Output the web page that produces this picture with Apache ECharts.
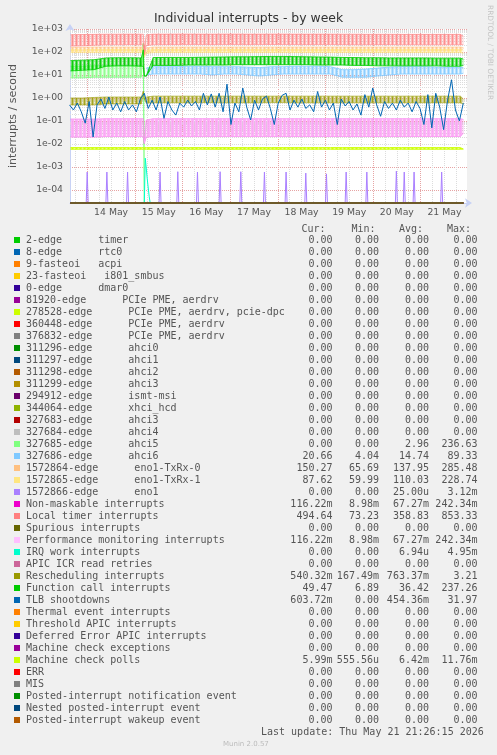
<!DOCTYPE html>
<html>
<head>
<meta charset="utf-8">
<title>Individual interrupts - by week</title>
<script src="https://cdn.jsdelivr.net/npm/echarts@6/dist/echarts.min.js"></script>
<style>
  html, body { margin: 0; padding: 0; background: #F0F0F0; }
  #chart { width: 497px; height: 755px; }
</style>
</head>
<body>
<div id="chart"></div>
<script>
const yFloor = 2.7e-5 // bottom of the log axis, rrdtool draws zeros here

const legendNames = [
  '2-edge      timer', '8-edge      rtc0', '9-fasteoi   acpi', '23-fasteoi   i801_smbus', '0-edge      dmar0',
  '81920-edge      PCIe PME, aerdrv', '278528-edge      PCIe PME, aerdrv, pcie-dpc', '360448-edge      PCIe PME, aerdrv',
  '376832-edge      PCIe PME, aerdrv', '311296-edge      ahci0', '311297-edge      ahci1', '311298-edge      ahci2',
  '311299-edge      ahci3', '294912-edge      ismt-msi', '344064-edge      xhci_hcd', '327683-edge      ahci3',
  '327684-edge      ahci4', '327685-edge      ahci5', '327686-edge      ahci6', '1572864-edge      eno1-TxRx-0',
  '1572865-edge      eno1-TxRx-1', '1572866-edge      eno1', 'Non-maskable interrupts', 'Local timer interrupts',
  'Spurious interrupts', 'Performance monitoring interrupts', 'IRQ work interrupts', 'APIC ICR read retries',
  'Rescheduling interrupts', 'Function call interrupts', 'TLB shootdowns', 'Thermal event interrupts',
  'Threshold APIC interrupts', 'Deferred Error APIC interrupts', 'Machine check exceptions', 'Machine check polls',
  'ERR', 'MIS', 'Posted-interrupt notification event', 'Nested posted-interrupt event', 'Posted-interrupt wakeup event'
]
const legendColors = [
  '#00CC00', '#0066B3', '#FF8000', '#FFCC00', '#330099', '#990099', '#CCFF00', '#FF0000', '#808080', '#008F00',
  '#00487D', '#B35A00', '#B38F00', '#6B006B', '#8FB300', '#B30000', '#BEBEBE', '#80FF80', '#80C9FF', '#FFC080',
  '#FFE680', '#AA80FF', '#EE00CC', '#FF8080', '#666600', '#FFBFFF', '#00FFCC', '#CC6699', '#999900', '#00CC00',
  '#0066B3', '#FF8000', '#FFCC00', '#330099', '#990099', '#CCFF00', '#FF0000', '#808080', '#008F00', '#00487D', '#B35A00'
]
const curVals = [
  '0.00', '0.00', '0.00', '0.00', '0.00', '0.00', '0.00', '0.00', '0.00', '0.00', '0.00', '0.00', '0.00', '0.00',
  '0.00', '0.00', '0.00', '0.00', '20.66', '150.27', '87.62', '0.00', '116.22m', '494.64', '0.00', '116.22m', '0.00',
  '0.00', '540.32m', '49.47', '603.72m', '0.00', '0.00', '0.00', '0.00', '5.99m', '0.00', '0.00', '0.00', '0.00', '0.00'
]
const minVals = [
  '0.00', '0.00', '0.00', '0.00', '0.00', '0.00', '0.00', '0.00', '0.00', '0.00', '0.00', '0.00', '0.00', '0.00',
  '0.00', '0.00', '0.00', '0.00', '4.04', '65.69', '59.99', '0.00', '8.98m', '73.23', '0.00', '8.98m', '0.00',
  '0.00', '167.49m', '6.89', '0.00', '0.00', '0.00', '0.00', '0.00', '555.56u', '0.00', '0.00', '0.00', '0.00', '0.00'
]
const avgVals = [
  '0.00', '0.00', '0.00', '0.00', '0.00', '0.00', '0.00', '0.00', '0.00', '0.00', '0.00', '0.00', '0.00', '0.00',
  '0.00', '0.00', '0.00', '2.96', '14.74', '137.95', '110.03', '25.00u', '67.27m', '358.83', '0.00', '67.27m', '6.94u',
  '0.00', '763.37m', '36.42', '454.36m', '0.00', '0.00', '0.00', '0.00', '6.42m', '0.00', '0.00', '0.00', '0.00', '0.00'
]
const maxVals = [
  '0.00', '0.00', '0.00', '0.00', '0.00', '0.00', '0.00', '0.00', '0.00', '0.00', '0.00', '0.00', '0.00', '0.00',
  '0.00', '0.00', '0.00', '236.63', '89.33', '285.48', '228.74', '3.12m', '242.34m', '853.33', '0.00', '242.34m', '4.95m',
  '0.00', '3.21', '237.26', '31.97', '0.00', '0.00', '0.00', '0.00', '11.76m', '0.00', '0.00', '0.00', '0.00', '0.00'
]

// envelopes (low / high) of the fast oscillating series
const bandTimes = [
  '05-13 14:00', '05-13 20:00', '05-14 02:00', '05-14 08:00', '05-14 14:00', '05-14 20:00', '05-15 02:00', '05-15 03:00',
  '05-15 03:30', '05-15 04:30', '05-15 08:00', '05-15 14:00', '05-15 20:00', '05-16 02:00', '05-16 08:00', '05-16 14:00',
  '05-16 20:00', '05-17 02:00', '05-17 08:00', '05-17 14:00', '05-17 20:00', '05-18 02:00', '05-18 08:00', '05-18 14:00',
  '05-18 20:00', '05-19 02:00', '05-19 08:00', '05-19 14:00', '05-19 20:00', '05-20 02:00', '05-20 08:00', '05-20 14:00',
  '05-20 20:00', '05-21 02:00', '05-21 08:00', '05-21 14:00', '05-21 20:00', '05-21 21:30'
]
const localTimerLo = [180, 185, 195, 205, 205, 208, 205, 205, 76, 190, 205, 208, 208, 210, 210, 208, 210, 210, 208, 210,
  212, 210, 210, 208, 210, 210, 208, 206, 206, 208, 208, 206, 206, 205, 205, 206, 206, 210]
const localTimerHi = [565, 575, 585, 595, 595, 600, 595, 595, 150, 560, 600, 600, 605, 605, 600, 600, 605, 605, 600, 600,
  605, 605, 600, 600, 600, 600, 595, 595, 590, 590, 590, 585, 585, 585, 585, 585, 585, 495]
const txrx0Lo = [110, 110, 112, 112, 112, 112, 112, 112, 70, 100, 112, 112, 112, 112, 112, 112, 112, 112, 112, 112,
  112, 112, 112, 112, 112, 112, 112, 112, 112, 112, 112, 112, 112, 112, 112, 112, 112, 140]
const txrx0Hi = [160, 160, 165, 165, 165, 165, 165, 165, 90, 150, 165, 165, 165, 165, 165, 165, 165, 165, 165, 165,
  165, 165, 165, 165, 165, 165, 165, 165, 165, 165, 165, 165, 165, 165, 165, 165, 165, 155]
const txrx1Lo = [95, 95, 95, 95, 95, 95, 95, 95, 60, 85, 95, 95, 95, 95, 95, 95, 95, 95, 95, 95,
  95, 95, 95, 95, 95, 95, 95, 95, 95, 95, 95, 95, 95, 95, 95, 95, 95, 87]
const txrx1Hi = [125, 125, 128, 128, 128, 128, 128, 128, 80, 115, 128, 128, 128, 128, 128, 128, 128, 128, 128, 128,
  128, 128, 128, 128, 128, 128, 128, 128, 128, 128, 128, 128, 128, 128, 128, 128, 128, 120]
const funcCallLo = [15, 16, 17, 24, 25, 25, 24, 24, 9, 9, 26, 26, 26, 27, 27, 27, 27, 28, 28, 28,
  28, 28, 28, 28, 27, 27, 27, 26, 26, 25, 25, 25, 25, 25, 25, 24, 24, 26]
const funcCallHi = [42, 44, 46, 55, 56, 56, 55, 125, 9, 9, 57, 58, 58, 58, 59, 60, 61, 62, 62, 63,
  64, 64, 63, 62, 61, 60, 58, 57, 56, 56, 55, 55, 55, 55, 54, 54, 54, 49.5]
const ahci5Lo = [7.5, 7.5, 8, 8, 8, 8, 8, 236, 0, 0, 0, 0, 0, 0, 0, 0, 0, 0, 0, 0,
  0, 0, 0, 0, 0, 0, 0, 0, 0, 0, 0, 0, 0, 0, 0, 0, 0, 0]
const ahci5Hi = [24, 24, 25, 25, 25, 25, 25, 236, 0, 0, 0, 0, 0, 0, 0, 0, 0, 0, 0, 0,
  0, 0, 0, 0, 0, 0, 0, 0, 0, 0, 0, 0, 0, 0, 0, 0, 0, 0]
const ahci6Lo = [null, null, null, null, null, null, null, null, null, 10, 11, 11, 11, 11, 11, 10, 11, 11, 10, 9,
  10, 11, 11, 11, 11, 11, 8, 8, 8, 9, 10, 11, 11, 11, 11, 11, 11, 12]
const ahci6Hi = [null, null, null, null, null, null, null, null, null, 20, 23, 23, 23, 24, 24, 23, 23, 23, 22, 21,
  23, 23, 24, 24, 24, 23, 17, 17, 18, 20, 22, 23, 23, 23, 22, 22, 22, 20.7]
const reschedLo = [0.5, 0.5, 0.5, 0.55, 0.55, 0.55, 0.55, 1.9, 0.9, 0.6, 0.62, 0.62, 0.62, 0.62, 0.63, 0.63, 0.62, 0.62, 0.62, 0.62,
  0.63, 0.63, 0.62, 0.62, 0.62, 0.62, 0.62, 0.62, 0.62, 0.62, 0.62, 0.62, 0.62, 0.62, 0.62, 0.62, 0.62, 0.54]
const reschedHi = [1.0, 1.0, 1.05, 1.1, 1.1, 1.1, 1.1, 1.9, 0.9, 1.1, 1.2, 1.2, 1.2, 1.2, 1.2, 1.2, 1.2, 1.2, 1.2, 1.2,
  1.2, 1.2, 1.2, 1.2, 1.2, 1.2, 1.2, 1.2, 1.2, 1.2, 1.2, 1.2, 1.2, 1.2, 1.2, 1.2, 1.2, 0.9]
// NMI and performance monitoring counters are identical (same legend figures)
const nmiLo = [0.02, 0.02, 0.02, 0.021, 0.021, 0.021, 0.021, 0.021, 0.0105, 0.02, 0.021, 0.021, 0.021, 0.021, 0.021, 0.021, 0.021, 0.021, 0.021, 0.021,
  0.021, 0.021, 0.021, 0.021, 0.021, 0.021, 0.021, 0.021, 0.021, 0.021, 0.021, 0.021, 0.021, 0.021, 0.021, 0.021, 0.021, 0.03]
const nmiHi = [0.12, 0.12, 0.12, 0.125, 0.125, 0.125, 0.125, 0.125, 0.0105, 0.11, 0.125, 0.125, 0.125, 0.125, 0.125, 0.125, 0.125, 0.125, 0.125, 0.125,
  0.125, 0.125, 0.125, 0.125, 0.125, 0.125, 0.125, 0.125, 0.125, 0.125, 0.125, 0.125, 0.125, 0.125, 0.125, 0.125, 0.125, 0.116]
const mcPollLo = [0.0059, 0.0059, 0.0059, 0.0059, 0.0059, 0.0059, 0.0059, 0.0059, 0.0059, 0.0059, 0.0059, 0.0059, 0.0059, 0.0059, 0.0059, 0.0059, 0.0059, 0.0059, 0.0059, 0.0059,
  0.0059, 0.0059, 0.0059, 0.0059, 0.0059, 0.0059, 0.0059, 0.0059, 0.0059, 0.0059, 0.0059, 0.0059, 0.0059, 0.0059, 0.0059, 0.0059, 0.0059, 0.00599]
const mcPollHi = [0.0069, 0.0069, 0.0069, 0.0069, 0.0069, 0.0069, 0.0069, 0.0069, 0.0069, 0.0069, 0.0069, 0.0069, 0.0069, 0.0069, 0.0069, 0.0069, 0.0069, 0.0069, 0.0069, 0.0069,
  0.0069, 0.0069, 0.0069, 0.0069, 0.0069, 0.0069, 0.0069, 0.0069, 0.0069, 0.0069, 0.0069, 0.0069, 0.0069, 0.0069, 0.0069, 0.0069, 0.0069, 0.00599]

// TLB shootdowns, one value every 2 hours from 13 May 13:30
const tlbStart = '05-13 13:30'
const tlbStepHours = 2
const tlbVals = [
  0.5, 0.3, 0.6, 0.25, 0.08, 0.7, 0.02, 0.5, 0.9, 0.35,
  1.1, 0.3, 0.6, 0.25, 0.7, 0.3, 0.5, 0.25, 0.9, 1.6,
  0.35, 0.8, 0.3, 1.1, 0.13, 0.7, 0.3, 0.18, 0.6, 0.4,
  0.8, 0.45, 0.7, 0.3, 1.6, 0.5, 1.5, 0.4, 1.6, 0.25,
  4.0, 0.07, 0.6, 0.25, 2.7, 0.4, 0.11, 0.8, 0.3, 0.9,
  1.2, 0.35, 0.07, 0.6, 1.3, 1.6, 0.3, 0.8, 0.4, 0.9,
  0.35, 0.5, 0.25, 1.9, 0.4, 0.8, 0.3, 0.6, 0.07, 0.9,
  0.45, 0.7, 0.3, 0.55, 0.18, 1.4, 0.4, 2.7, 0.5, 0.16,
  0.7, 0.35, 0.6, 0.3, 0.8, 0.4, 0.6, 0.25, 0.7, 0.35,
  0.07, 1.4, 0.05, 1.6, 0.4, 0.042, 0.8, 6.2, 0.3, 0.1,
  0.6
]

// eno1 only fires now and then
const eno1Times = ['05-13 22:30', '05-14 08:30', '05-14 19:00', '05-15 11:30', '05-15 20:30', '05-16 06:30',
  '05-16 18:00', '05-17 04:30', '05-17 16:30', '05-18 03:30', '05-18 13:30', '05-19 00:00', '05-19 10:00',
  '05-19 20:30', '05-20 11:30', '05-20 15:30', '05-20 20:30', '05-21 10:30']
const eno1Vals = [6e-4, 6e-4, 6e-4, 6e-4, 6.2e-4, 6e-4, 6.2e-4, 6.2e-4, 6e-4, 6e-4, 5.4e-4, 5e-4, 6e-4,
  6e-4, 6.6e-4, 6e-4, 6e-4, 6e-4]

// IRQ work: one burst after the reboot
const irqTimes = ['05-15 03:30', '05-15 04:00', '05-15 05:00', '05-15 06:00', '05-15 06:30', '05-21 21:30']
const irqVals = [0, 0.0024, 0.0003, 0.00005, 0, 0]

const dataStart = '05-13 14:00'
const dataEnd = '05-21 21:30'

// ---------------------------------------------------------------
const H = 3600000
const SANS = "'DejaVu Sans', sans-serif"
const MONO = "'DejaVu Sans Mono', monospace"
const ts = (s) => {
  const [md, hm] = s.split(' ')
  const [mo, d] = md.split('-').map(Number)
  const [h, mi] = hm.split(':').map(Number)
  return Date.UTC(2026, mo - 1, d, h, mi)
}
const fl = (v) => (v === 0 ? yFloor : v)

// plot box in pixels and its time span
const plotL = 67, plotT = 29, plotW = 400, plotH = 174
const tMin = Date.UTC(2026, 4, 13, 13, 46)
const tMax = Date.UTC(2026, 4, 21, 23, 22)
const pxPerMs = plotW / (tMax - tMin)
const subGrid = (t0) => {
  const left = plotL + (t0 - tMin) * pxPerMs
  return { left, top: plotT, width: plotL + plotW - left, height: plotH, show: false }
}

// striped fill that looks like rrdtool's dense zigzag lines
const stripes = (color, strength) => {
  const alphas = [0.95, 0.6, 0.2, 0.6]
  const c = document.createElement('canvas')
  c.width = alphas.length
  c.height = 1
  const g = c.getContext('2d')
  g.fillStyle = color
  alphas.forEach((a, x) => {
    g.globalAlpha = a * strength
    g.fillRect(x, 0, 1, 1)
  })
  return { image: c, repeat: 'repeat' }
}

// a band = area between the low and high envelope, drawn with the axis scales
const bandSeries = (color, lo, hi, strength, lineOpacity) => {
  const data = []
  bandTimes.forEach((t, i) => {
    if (lo[i] != null && hi[i] != null) data.push([ts(t), fl(lo[i]), fl(hi[i])])
  })
  const fill = stripes(color, strength)
  return [{
    type: 'custom', data, clip: false, animation: false, silent: true,
    encode: { x: 0, y: [1, 2] },
    renderItem: (params, api) => {
      if (params.dataIndexInside !== 0) return null
      const n = params.dataInsideLength
      const bottom = [], top = []
      for (let j = 0; j < n; j++) {
        bottom.push(api.coord([api.value(0, j), api.value(1, j)]))
        top.push(api.coord([api.value(0, j), api.value(2, j)]))
      }
      return {
        type: 'group',
        children: [
          { type: 'polygon', shape: { points: bottom.concat(top.slice().reverse()) }, style: { fill } },
          { type: 'polyline', shape: { points: bottom }, style: { stroke: color, fill: null, lineWidth: 1, opacity: lineOpacity } },
          { type: 'polyline', shape: { points: top }, style: { stroke: color, fill: null, lineWidth: 1, opacity: lineOpacity } }
        ]
      }
    }
  }]
}
const lineSeries = (color, data) => [{
  type: 'line', data, symbol: 'none', clip: false, animation: false, silent: true,
  lineStyle: { color, width: 1 }
}]

const tlbData = tlbVals.map((v, i) => [ts(tlbStart) + i * tlbStepHours * H, fl(v)])
const eno1Data = [[ts(dataStart), yFloor]]
eno1Times.forEach((t, i) => {
  eno1Data.push([ts(t) - H / 2, yFloor], [ts(t), eno1Vals[i]], [ts(t) + H / 2, yFloor])
})
eno1Data.push([ts(dataEnd), yFloor])
const irqData = irqTimes.map((t, i) => [ts(t), fl(irqVals[i])])

// minor horizontal grid, 2..9 inside every decade
const minorGrid = []
for (let e = -5; e <= 2; e++) {
  for (let m = 2; m <= 9; m++) {
    const v = m * Math.pow(10, e)
    if (v > yFloor && v < 1000) minorGrid.push({ yAxis: v })
  }
}

const drawn = {
  17: () => bandSeries('#80FF80', ahci5Lo, ahci5Hi, 0.9, 0.8),
  18: () => bandSeries('#80C9FF', ahci6Lo, ahci6Hi, 0.95, 0.8),
  19: () => bandSeries('#FFC080', txrx0Lo, txrx0Hi, 0.9, 0.6),
  20: () => bandSeries('#FFE680', txrx1Lo, txrx1Hi, 0.9, 0.6),
  21: () => lineSeries('#AA80FF', eno1Data),
  22: () => bandSeries('#EE00CC', nmiLo, nmiHi, 0.55, 0.4),
  23: () => bandSeries('#FF8080', localTimerLo, localTimerHi, 0.9, 0.6),
  25: () => bandSeries('#FFBFFF', nmiLo, nmiHi, 0.75, 0.4),
  26: () => lineSeries('#00FFCC', irqData),
  28: () => bandSeries('#999900', reschedLo, reschedHi, 0.9, 0.6),
  29: () => bandSeries('#00CC00', funcCallLo, funcCallHi, 1, 0.8),
  30: () => lineSeries('#0066B3', tlbData),
  35: () => bandSeries('#CCFF00', mcPollLo, mcPollHi, 1, 1)
}

const series = []
legendNames.forEach((name, i) => {
  if (drawn[i]) {
    series.push(...drawn[i]())
  } else {
    series.push(...lineSeries(legendColors[i], [[ts(dataStart), yFloor], [ts(dataEnd), yFloor]]))
  }
})
series[0].markLine = {
  silent: true, animation: false, z: 1, symbol: ['none', 'none'],
  label: { show: false },
  lineStyle: { color: '#DCDCDC', type: [1, 1], width: 1 },
  data: minorGrid
}

// legend table drawn as text
const graphics = []
const txt = (x, y, text, align, font, fill) => ({
  type: 'text', x, y, silent: true,
  style: { text, fill: fill || '#555555', font: font || ('10px ' + MONO), align, verticalAlign: 'middle' }
})
const rowY0 = 240, rowH = 12
graphics.push(txt(301.5, 229, 'Cur:', 'left'), txt(351.5, 229, 'Min:', 'left'),
  txt(399, 229, 'Avg:', 'left'), txt(447, 229, 'Max:', 'left'))
legendNames.forEach((name, i) => {
  const y = rowY0 + i * rowH
  graphics.push({ type: 'rect', silent: true, shape: { x: 14, y: y - 3, width: 6, height: 6 }, style: { fill: legendColors[i] } })
  graphics.push(txt(26, y, name, 'left'))
  graphics.push(txt(332.5, y, curVals[i], 'right'), txt(379, y, minVals[i], 'right'),
    txt(429, y, avgVals[i], 'right'), txt(477.5, y, maxVals[i], 'right'))
})
graphics.push(txt(261, rowY0 + legendNames.length * rowH, 'Last update: Thu May 21 21:26:15 2026', 'left'))
graphics.push(txt(223, 744, 'Munin 2.0.57', 'left', '7px ' + SANS, '#BBBBBB'))
graphics.push({
  type: 'text', x: 490, y: 5, rotation: -Math.PI / 2, silent: true,
  style: { text: 'RRDTOOL / TOBI OETIKER', fill: '#C4C4C4', font: '7.4px ' + SANS, align: 'left', verticalAlign: 'middle' }
})

const dayLabel = (v) => {
  const d = new Date(v)
  return d.getUTCHours() === 12 && d.getUTCMinutes() === 0 ? d.getUTCDate() + ' May' : ''
}
const expLabel = (v) => {
  const e = Math.round(Math.log10(v))
  return '1e' + (e < 0 ? '-' : '+') + String(Math.abs(e)).padStart(2, '0')
}

const option = {
  backgroundColor: '#F0F0F0',
  animation: false,
  useUTC: true,
  title: {
    text: 'Individual interrupts - by week', left: 'center', top: 13, padding: 0,
    textStyle: { fontFamily: SANS, fontSize: 12.4, fontWeight: 'normal', color: '#333333' }
  },
  grid: [
    { left: plotL, top: plotT, width: plotW, height: plotH, show: true, backgroundColor: '#FFFFFF', borderWidth: 0 },
    subGrid(Date.UTC(2026, 4, 13, 18, 0)),
    subGrid(Date.UTC(2026, 4, 14, 0, 0))
  ],
  xAxis: [
    {
      type: 'value', gridIndex: 0, min: tMin, max: tMax,
      axisLine: { show: true, onZero: false, symbol: ['none', 'arrow'], symbolSize: [7, 7], symbolOffset: [0, 5], lineStyle: { color: '#C8D2F5' } },
      axisTick: { show: false }, axisLabel: { show: false }, splitLine: { show: false }
    },
    {
      // 6 hour grid and day labels at noon
      type: 'value', gridIndex: 1, min: Date.UTC(2026, 4, 13, 18, 0), max: tMax, interval: 6 * H,
      axisLine: { show: false }, axisTick: { show: false },
      axisLabel: { formatter: dayLabel, fontFamily: SANS, fontSize: 9.3, color: '#555555', margin: 5 },
      splitLine: { show: true, showMaxLine: false, lineStyle: { color: '#DCDCDC', type: [1, 1], width: 1 } }
    },
    {
      // midnight grid
      type: 'value', gridIndex: 2, min: Date.UTC(2026, 4, 14, 0, 0), max: tMax, interval: 24 * H,
      axisLine: { show: false }, axisTick: { show: false }, axisLabel: { show: false },
      splitLine: { show: true, showMaxLine: false, lineStyle: { color: '#E6A4A4', type: [1, 1], width: 1 } }
    }
  ],
  yAxis: [
    {
      type: 'log', logBase: 10, gridIndex: 0, min: yFloor, max: 1000, splitNumber: 8,
      name: 'interrupts / second', nameLocation: 'middle', nameGap: 51,
      nameTextStyle: { fontFamily: SANS, fontSize: 11, color: '#555555' },
      axisLine: { show: true, symbol: ['none', 'arrow'], symbolSize: [7, 7], symbolOffset: [0, 5], lineStyle: { color: '#C8D2F5' } },
      axisTick: { show: false },
      axisLabel: { formatter: expLabel, fontFamily: SANS, fontSize: 9.3, color: '#555555', margin: 7, showMinLabel: false },
      splitLine: { show: true, showMinLine: false, lineStyle: { color: '#E6A4A4', type: [1, 1], width: 1 } },
      minorSplitLine: { show: false }
    },
    { type: 'value', gridIndex: 1, show: false },
    { type: 'value', gridIndex: 2, show: false }
  ],
  graphic: graphics,
  series
}

const chart = echarts.init(document.getElementById('chart'))
chart.setOption(option)
</script>
</body>
</html>
